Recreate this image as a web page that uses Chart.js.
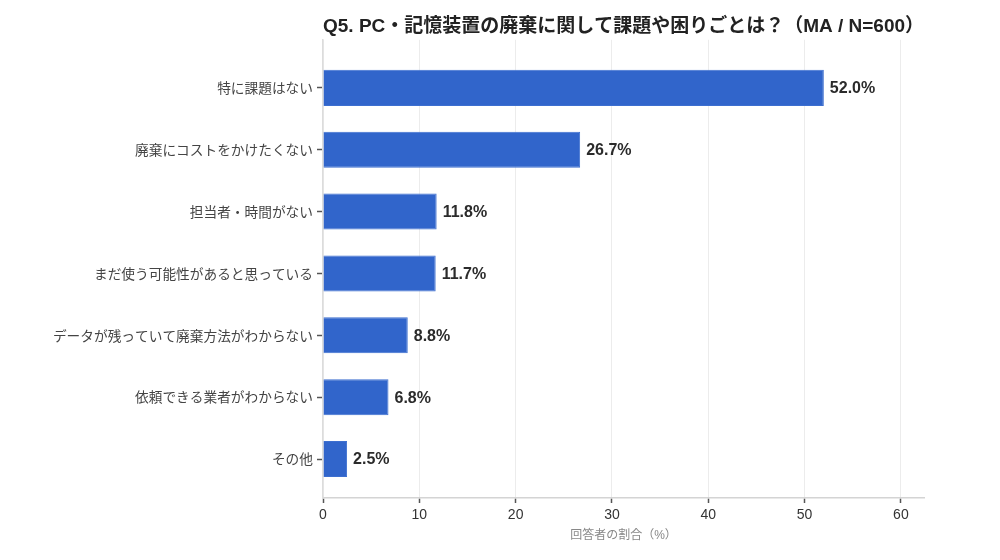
<!DOCTYPE html>
<html>
<head>
<meta charset="utf-8">
<script src="https://cdn.jsdelivr.net/npm/chart.js@4"></script>
<style>
  html, body { margin: 0; padding: 0; background: #ffffff; }
  #wrap { width: 1000px; height: 560px; position: relative; }
</style>
</head>
<body>
<div id="wrap"><canvas id="c"></canvas></div>
<script>
const categories = [
  "特に課題はない",
  "廃棄にコストをかけたくない",
  "担当者・時間がない",
  "まだ使う可能性があると思っている",
  "データが残っていて廃棄方法がわからない",
  "依頼できる業者がわからない",
  "その他"
];
const values = [52.0, 26.7, 11.8, 11.7, 8.8, 6.8, 2.5];
const xTicks = [0, 10, 20, 30, 40, 50, 60];
const titleText = "Q5. PC・記憶装置の廃棄に関して課題や困りごとは？（MA / N=600）";
const xAxisTitle = "回答者の割合（%）";

const FONT = '"Liberation Sans", "Noto Sans CJK JP", sans-serif';

const valueLabels = {
  id: 'valueLabels',
  afterDatasetsDraw(chart) {
    const ctx = chart.ctx;
    const meta = chart.getDatasetMeta(0);
    ctx.save();
    ctx.font = 'bold 16px ' + FONT;
    ctx.fillStyle = '#2b2b2b';
    ctx.textAlign = 'left';
    ctx.textBaseline = 'middle';
    meta.data.forEach((bar, i) => {
      ctx.fillText(values[i].toFixed(1) + '%', bar.x + 6, bar.y + 1);
    });
    ctx.restore();
  }
};

new Chart(document.getElementById('c'), {
  type: 'bar',
  data: {
    labels: categories,
    datasets: [{
      data: values,
      backgroundColor: '#3165cb',
      borderColor: '#3d6fd0',
      borderWidth: 1,
      barPercentage: 0.583,
      categoryPercentage: 1.0
    }]
  },
  options: {
    indexAxis: 'y',
    responsive: true,
    maintainAspectRatio: false,
    animation: false,
    layout: { padding: { top: 7, right: 76, bottom: 0, left: 0 } },
    plugins: {
      legend: { display: false },
      tooltip: { enabled: false },
      title: {
        display: true,
        text: titleText,
        fullSize: false,
        color: '#222222',
        font: { family: FONT, size: 19, weight: 'bold' },
        padding: { top: 8, bottom: 2 }
      }
    },
    scales: {
      x: {
        type: 'linear',
        min: 0,
        max: 62.4,
        afterBuildTicks(scale) {
          scale.ticks = xTicks.map(v => ({ value: v }));
        },
        afterFit(scale) { scale.height = 62; },
        ticks: {
          color: '#333333',
          font: { family: FONT, size: 14 },
          padding: 4
        },
        grid: {
          color: '#ececec',
          lineWidth: 1,
          tickLength: 5,
          tickColor: '#555555',
          tickWidth: 1.5
        },
        border: { color: '#d4d4d4', width: 1.5 },
        title: {
          display: true,
          text: xAxisTitle,
          color: '#888888',
          font: { family: FONT, size: 12 },
          padding: { top: 0, bottom: 17 }
        }
      },
      y: {
        type: 'category',
        afterBuildTicks(scale) {
          scale._startValue = -0.777;
          scale._valueRange = 7.407;
        },
        afterFit(scale) { scale.width = 323; },
        ticks: {
          color: '#444444',
          font: { family: '"Noto Sans CJK JP", sans-serif', size: 13.7 },
          padding: 4
        },
        grid: {
          display: true,
          offset: false,
          drawOnChartArea: false,
          tickLength: 6,
          tickColor: '#555555',
          tickWidth: 1.5
        },
        border: { color: '#dcdcdc', width: 1.5 }
      }
    }
  },
  plugins: [valueLabels]
});
</script>
</body>
</html>
